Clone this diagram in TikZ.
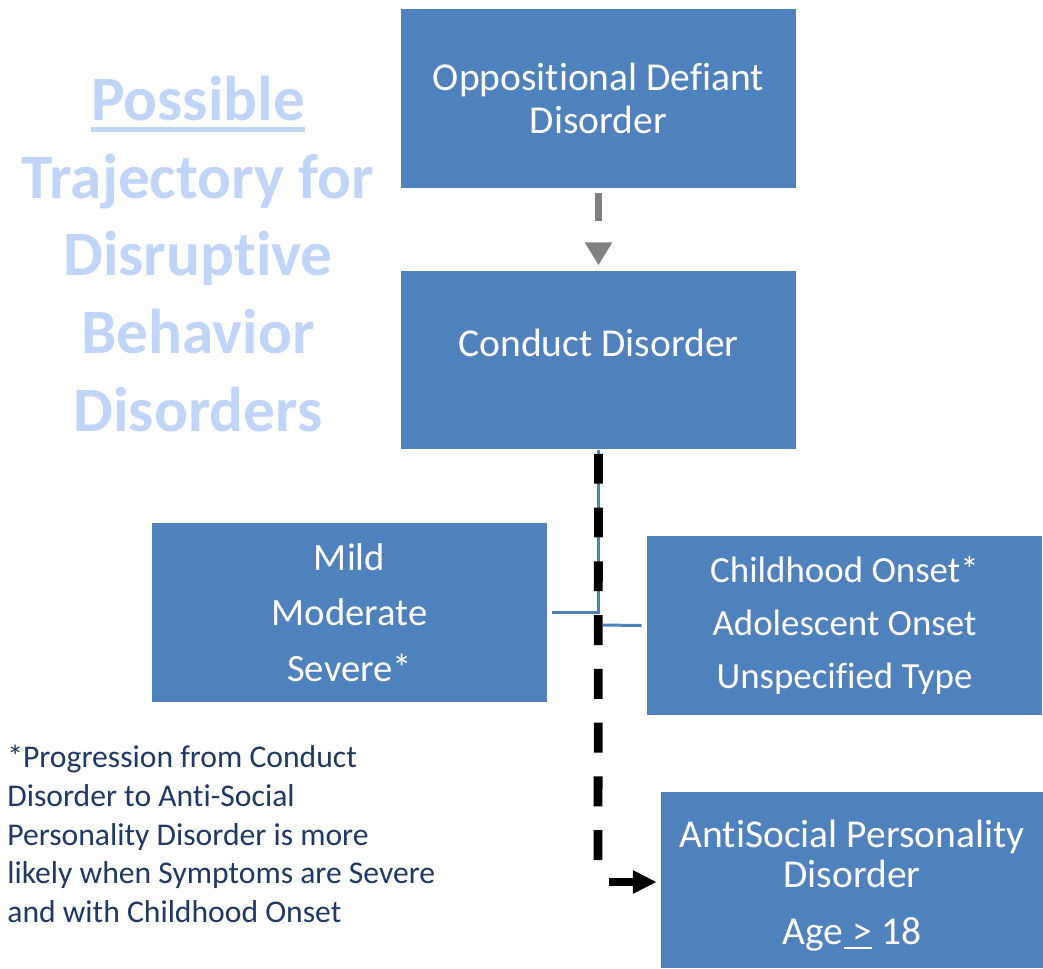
\documentclass[tikz,border=0pt]{standalone}
\usepackage{fontspec}
\setmainfont{Carlito}[RawFeature={-liga;-clig;-calt;-dlig}]
\usetikzlibrary{arrows.meta}
\definecolor{boxblue}{RGB}{79,129,189}
\definecolor{titleblue}{RGB}{192,213,247}
\definecolor{notenavy}{RGB}{31,56,100}
\newcommand\ulbar[3]{\setbox0\hbox{#3}\rlap{\rule[#1]{\wd0}{#2}}\box0}
\tikzset{
  box/.style={fill=boxblue,text=white,minimum width=7.9cm,minimum height=3.58cm,
    inner sep=0pt,align=center,font=\fontsize{22.5}{22.7}\selectfont},
  branch/.style={line width=1.7pt,color=boxblue},
  greyarrow/.style={line width=4.5pt,color=gray,dash pattern=on 15.9pt off 30pt,
    -{Triangle[width=14.7pt,length=13pt]},shorten <=2.8pt,shorten >=2.8pt},
  blackdash/.style={line width=5pt,dash pattern=on 17pt off 13.6pt},
  blackarrow/.style={line width=5pt,-{Triangle[width=12.5pt,length=13.6pt]},shorten >=0.08cm}
}
\begin{document}
\begin{tikzpicture}[x=0.02cm,y=-0.02cm]
    \useasboundingbox (0,0) rectangle (1043,968);

    % title
    \node[align=center,text=titleblue,inner sep=0pt,
      font=\fontsize{36}{44.2}\selectfont\bfseries] (title) at (198,254)
      {\ulbar{-0.18em}{0.08em}{Possible}\\Trajectory for\\Disruptive\\Behavior\\Disorders};

    % boxes
    \node[box] (odd) at (598.5,98.5) {\raisebox{2pt}{Oppositional Defiant}\\Disorder};
    \node[box] (cd) at (598.5,360) {\raisebox{20pt}{Conduct Disorder}};
    \node[box,font=\fontsize{22}{31.7}\selectfont] (mild) at (349.5,612.5) {Mild\\Moderate\\Severe*};
    \node[box,font=\fontsize{21}{30}\selectfont] (child) at (844.5,625.5)
      {Childhood Onset*\\Adolescent Onset\\Unspecified Type};
    \node[box,minimum width=7.64cm,minimum height=3.52cm] (aspd) at (852,880)
      {\rule{0pt}{22pt}AntiSocial Personality\\Disorder\\[10pt]Age\ulbar{-0.12em}{0.05em}{\ >}\ 18};

    % note
    \node[anchor=west,align=left,inner sep=0pt,text=notenavy,
      font=\fontsize{18}{22.1}\selectfont] (note) at (7,834)
      {*Progression from Conduct\\Disorder to Anti-Social\\Personality Disorder is more\\likely when Symptoms are Severe\\and with Childhood Onset};

    % connectors
    \draw[greyarrow] (odd.south) -- (cd.north);

    \coordinate (fork) at (603,625);
    \draw[branch] (cd.south) |- ([xshift=0.1cm]mild.east);
    \draw[branch] (fork) -- ([xshift=-0.1cm]child.west);

    \coordinate (dashend) at (598,868);
    \coordinate (arrowstart) at (609,882);
    \draw[blackdash] ([yshift=-0.08cm]cd.south) -- (dashend);
    \draw[blackarrow] (arrowstart) -- (aspd.west |- arrowstart);
  \end{tikzpicture}
\end{document}
